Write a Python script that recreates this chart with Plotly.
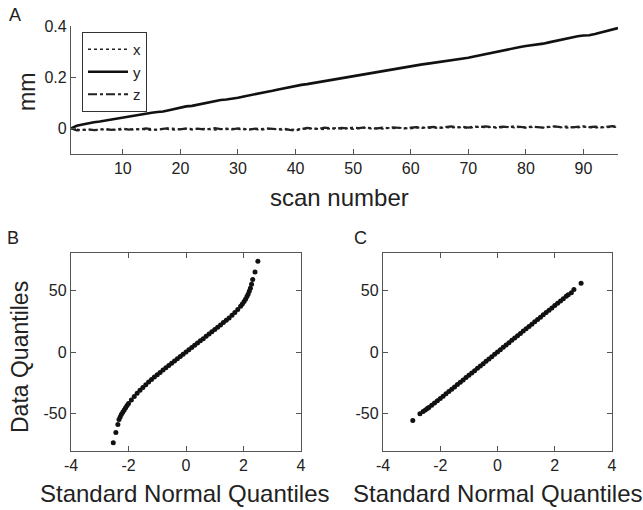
import plotly.graph_objects as go

# ---------------- Panel A data ----------------
scan = list(range(1, 97))
y_mm = [0.000, 0.010, 0.015, 0.020, 0.024, 0.027, 0.031, 0.035, 0.039, 0.043,
        0.046, 0.050, 0.053, 0.057, 0.061, 0.064, 0.066, 0.071, 0.076, 0.081,
        0.086, 0.088, 0.093, 0.099, 0.104, 0.108, 0.111, 0.113, 0.116, 0.120,
        0.125, 0.129, 0.133, 0.138, 0.143, 0.147, 0.152, 0.157, 0.162, 0.166,
        0.170, 0.173, 0.177, 0.181, 0.185, 0.188, 0.191, 0.195, 0.199, 0.203,
        0.207, 0.211, 0.215, 0.219, 0.223, 0.227, 0.231, 0.235, 0.239, 0.243,
        0.246, 0.250, 0.253, 0.256, 0.259, 0.262, 0.266, 0.269, 0.272, 0.276,
        0.281, 0.286, 0.291, 0.295, 0.299, 0.304, 0.309, 0.314, 0.318, 0.322,
        0.325, 0.327, 0.331, 0.336, 0.341, 0.345, 0.350, 0.355, 0.360, 0.363,
        0.364, 0.369, 0.375, 0.381, 0.386, 0.392]
x_mm = [0.000, -0.004, -0.007, -0.005, -0.008, -0.003, -0.006, -0.004, -0.007, -0.005,
        -0.003, -0.006, -0.002, -0.005, -0.007, -0.004, -0.001, -0.004, -0.006, -0.003,
        -0.002, -0.005, -0.003, -0.001, -0.004, -0.006, -0.002, -0.004, -0.001, -0.003,
        -0.005, -0.002, -0.004, -0.006, -0.003, -0.001, -0.004, -0.007, -0.003, -0.005,
        -0.001, -0.003, 0.000, -0.002, -0.004, -0.001, 0.001, -0.002, 0.000, -0.003,
        0.000, 0.002, -0.001, 0.001, -0.002, 0.002, 0.000, 0.003, 0.001, -0.001,
        0.002, 0.004, 0.001, 0.003, 0.000, 0.004, 0.002, 0.005, 0.003, 0.001,
        0.004, 0.006, 0.003, 0.005, 0.002, 0.004, 0.006, 0.003, 0.005, 0.002,
        0.004, 0.006, 0.003, 0.005, 0.007, 0.004, 0.002, 0.005, 0.003, 0.006,
        0.004, 0.002, 0.005, 0.003, 0.006, 0.004]
z_mm = [0.000, -0.008, -0.006, -0.003, -0.007, -0.004, -0.002, -0.006, -0.003, -0.001,
        -0.005, -0.002, -0.004, 0.000, -0.003, -0.006, -0.002, 0.001, -0.002, -0.004,
        0.000, -0.003, -0.001, -0.004, -0.002, 0.001, -0.003, -0.001, -0.004, 0.000,
        -0.002, -0.005, -0.001, -0.003, 0.000, -0.002, -0.004, -0.001, -0.006, -0.008,
        -0.002, 0.002, 0.000, -0.002, 0.003, 0.001, -0.001, 0.002, 0.000, 0.003,
        0.001, 0.004, 0.002, -0.001, 0.003, 0.001, 0.004, 0.002, 0.000, 0.003,
        0.005, 0.002, 0.004, 0.006, 0.003, 0.005, 0.008, 0.004, 0.006, 0.003,
        0.007, 0.005, 0.008, 0.006, 0.004, 0.007, 0.005, 0.008, 0.006, 0.004,
        0.007, 0.005, 0.003, 0.006, 0.008, 0.005, 0.007, 0.004, 0.006, 0.008,
        0.005, 0.007, 0.004, 0.006, 0.009, 0.007]
a_xticks = [10, 20, 30, 40, 50, 60, 70, 80, 90]
a_yticks = [0, 0.2, 0.4]
a_yticktext = ["0", "0.2", "0.4"]

# ---------------- Panel B data (QQ) ----------------
b_theo = [-2.53, -2.44, -2.37, -2.33, -2.29, -2.25, -2.20, -2.15, -2.10, -2.05,
          -2.00, -1.90, -1.80, -1.70, -1.60, -1.50, -1.40, -1.30, -1.20, -1.10,
          -1.00, -0.90, -0.80, -0.70, -0.60, -0.50, -0.40, -0.30, -0.20, -0.10,
          0.00, 0.10, 0.20, 0.30, 0.40, 0.50, 0.60, 0.70, 0.80, 0.90,
          1.00, 1.10, 1.20, 1.30, 1.40, 1.50, 1.60, 1.70, 1.80, 1.90,
          1.96, 2.02, 2.07, 2.12, 2.16, 2.20, 2.24, 2.28, 2.32, 2.40, 2.50]
b_data = [-73.4, -65.0, -58.5, -54.6, -52.5, -50.6, -48.6, -46.8, -45.0, -43.3,
          -41.7, -38.8, -36.0, -33.4, -31.0, -28.7, -26.5, -24.3, -22.3, -20.3,
          -18.4, -16.5, -14.6, -12.8, -10.9, -9.1, -7.3, -5.5, -3.6, -1.8,
          0.0, 1.8, 3.6, 5.4, 7.2, 9.0, 10.8, 12.7, 14.5, 16.4,
          18.2, 20.0, 21.9, 23.8, 25.6, 27.5, 29.6, 31.9, 34.3, 37.0,
          38.8, 40.8, 42.7, 44.8, 46.7, 49.0, 51.6, 54.8, 58.5, 64.6, 73.4]

# ---------------- Panel C data (QQ) ----------------
c_theo = [-2.96, -2.71, -2.60, -2.52, -2.45, -2.40, -2.30, -2.20, -2.10, -2.00,
          -1.90, -1.80, -1.70, -1.60, -1.50, -1.40, -1.30, -1.20, -1.10, -1.00,
          -0.90, -0.80, -0.70, -0.60, -0.50, -0.40, -0.30, -0.20, -0.10, 0.00,
          0.10, 0.20, 0.30, 0.40, 0.50, 0.60, 0.70, 0.80, 0.90, 1.00,
          1.10, 1.20, 1.30, 1.40, 1.50, 1.60, 1.70, 1.80, 1.90, 2.00,
          2.10, 2.20, 2.30, 2.40, 2.47, 2.58, 2.67, 2.92]
c_data = [-55.3, -49.8, -48.0, -46.8, -45.7, -44.9, -43.1, -41.2, -39.4, -37.5,
          -35.7, -33.8, -31.9, -30.1, -28.2, -26.3, -24.5, -22.6, -20.7, -18.8,
          -16.9, -15.1, -13.2, -11.3, -9.4, -7.5, -5.7, -3.8, -1.9, 0.0,
          1.9, 3.8, 5.6, 7.5, 9.4, 11.3, 13.2, 15.0, 16.9, 18.8,
          20.6, 22.5, 24.4, 26.2, 28.1, 30.0, 31.9, 33.8, 35.6, 37.5,
          39.4, 41.2, 43.1, 45.0, 46.3, 47.8, 50.6, 55.5]

qq_xticks = [-4, -2, 0, 2, 4]
qq_xticktext = ["-4", "-2", "0", "2", "4"]
qq_yticks = [-50, 0, 50]
qq_yticktext = ["-50", "0", "50"]

FONT = "Liberation Sans, Arial, sans-serif"
AXC = "#555555"
TXT = "#222222"

fig = go.Figure()

fig.add_trace(go.Scatter(x=scan, y=x_mm, mode="lines", name="x",
                         line=dict(color="#222", width=1.6, dash="dot"),
                         xaxis="x", yaxis="y"))
fig.add_trace(go.Scatter(x=scan, y=y_mm, mode="lines", name="y",
                         line=dict(color="#111", width=2.6),
                         xaxis="x", yaxis="y"))
fig.add_trace(go.Scatter(x=scan, y=z_mm, mode="lines", name="z",
                         line=dict(color="#222", width=2.2, dash="dashdot"),
                         xaxis="x", yaxis="y"))

fig.add_trace(go.Scatter(x=b_theo, y=b_data, mode="markers", showlegend=False,
                         marker=dict(color="#111", size=5, line=dict(width=0)),
                         xaxis="x2", yaxis="y2"))
fig.add_trace(go.Scatter(x=c_theo, y=c_data, mode="markers", showlegend=False,
                         marker=dict(color="#111", size=5, line=dict(width=0)),
                         xaxis="x3", yaxis="y3"))

W, H = 643, 510

def px(x):
    return x / W

def py(y):
    return 1 - y / H

axis_common = dict(showgrid=False, zeroline=False, showline=True, linecolor=AXC,
                   linewidth=1.3, ticks="inside", ticklen=5, tickcolor=AXC,
                   tickwidth=1.2, automargin=False,
                   tickfont=dict(family=FONT, size=16, color=TXT))

fig.update_layout(
    width=W, height=H,
    margin=dict(l=0, r=0, t=0, b=0, autoexpand=False),
    paper_bgcolor="white", plot_bgcolor="white",
    font=dict(family=FONT, color=TXT),
    xaxis=dict(domain=[px(71), px(618)], range=[1, 96], anchor="y",
               tickvals=a_xticks, **axis_common),
    yaxis=dict(domain=[py(154), py(26)], range=[-0.1, 0.4], anchor="x",
               tickvals=a_yticks, ticktext=a_yticktext, **axis_common),
    xaxis2=dict(domain=[px(71), px(301)], range=[-4, 4], anchor="y2", mirror="ticks",
                tickvals=qq_xticks, ticktext=qq_xticktext, **axis_common),
    yaxis2=dict(domain=[py(451), py(253)], range=[-80, 80], anchor="x2", mirror="ticks",
                tickvals=qq_yticks, ticktext=qq_yticktext, **axis_common),
    xaxis3=dict(domain=[px(383), px(612)], range=[-4, 4], anchor="y3", mirror="ticks",
                tickvals=qq_xticks, ticktext=qq_xticktext, **axis_common),
    yaxis3=dict(domain=[py(451), py(253)], range=[-80, 80], anchor="x3", mirror="ticks",
                tickvals=qq_yticks, ticktext=qq_yticktext, **axis_common),
    legend=dict(x=px(82), y=py(32), xanchor="left", yanchor="top",
                bgcolor="white", bordercolor="#333", borderwidth=1,
                font=dict(family=FONT, size=15, color=TXT),
                itemwidth=40, tracegroupgap=0),
    showlegend=True,
)

def ann(text, x, y, size, angle=0):
    fig.add_annotation(text=text, x=px(x), y=py(y), xref="paper", yref="paper",
                       showarrow=False, xanchor="center", yanchor="middle",
                       textangle=angle, font=dict(family=FONT, size=size, color=TXT))

ann("A", 15, 15, 18)
ann("B", 13, 238, 18)
ann("C", 360, 238, 18)
ann("mm", 27, 92, 23, -90)
ann("scan number", 340, 198, 24)
ann("Data Quantiles", 20, 357, 23, -90)
ann("Standard Normal Quantiles", 184, 493, 24)
ann("Standard Normal Quantiles", 497, 493, 24)

fig.write_html("out.html")
